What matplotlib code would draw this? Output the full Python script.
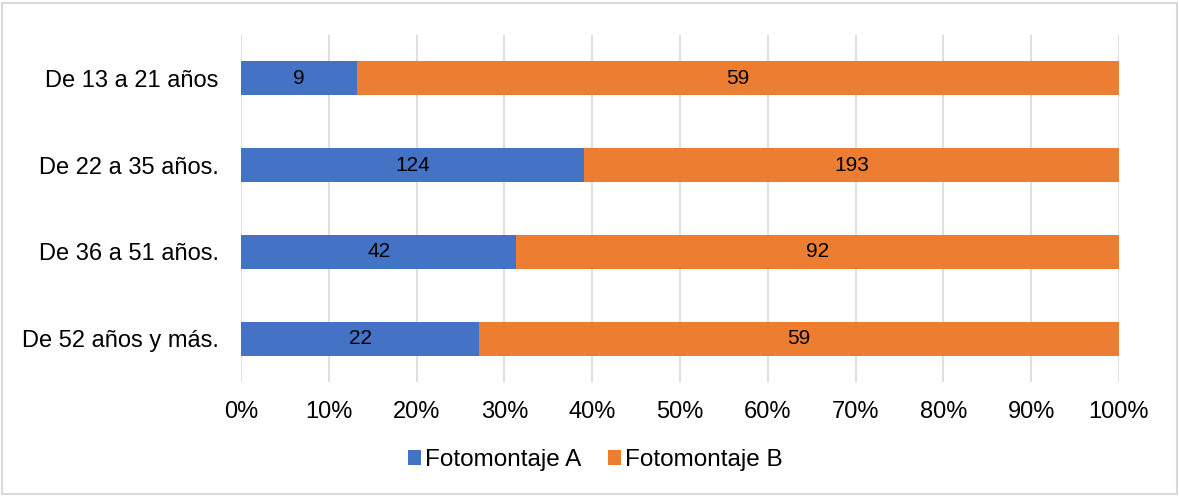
import numpy as np
import matplotlib.pyplot as plt
from matplotlib.patches import Rectangle
from matplotlib.ticker import FuncFormatter

plt.rcParams['font.family'] = ['Liberation Sans', 'DejaVu Sans']

grupos = ['De 13 a 21 años', 'De 22 a 35 años.', 'De 36 a 51 años.', 'De 52 años y más.']
foto_a = np.array([9, 124, 42, 22])
foto_b = np.array([59, 193, 92, 59])

total = foto_a + foto_b
pct_a = foto_a / total * 100
pct_b = foto_b / total * 100

fig = plt.figure(figsize=(11.79, 4.96), dpi=100)
ax = fig.add_axes([0.2044, 0.2299, 0.7447, 0.6995])

y = np.arange(len(grupos))
ax.barh(y, pct_a, height=0.39, color='#4472C4', label='Fotomontaje A', zorder=2)
ax.barh(y, pct_b, left=pct_a, height=0.39, color='#ED7D31', label='Fotomontaje B', zorder=2)

for i in range(len(grupos)):
    ax.text(pct_a[i] / 2, y[i], str(foto_a[i]), ha='center', va='center', fontsize=15)
    ax.text(pct_a[i] + pct_b[i] / 2, y[i], str(foto_b[i]), ha='center', va='center', fontsize=15)

ax.set_xlim(0, 100)
ax.set_ylim(3.5, -0.5)
ax.set_xticks(np.arange(0, 101, 10))
ax.xaxis.set_major_formatter(FuncFormatter(lambda v, p: f'{int(v)}%'))
ax.set_yticks(y)
ax.set_yticklabels(grupos)
ax.tick_params(axis='both', length=0, labelsize=17)
ax.tick_params(axis='x', pad=14)
ax.tick_params(axis='y', pad=16)
ax.grid(axis='x', color='#D9D9D9', linewidth=1.2, zorder=0)
for s in ax.spines.values():
    s.set_visible(False)

fig.legend(loc='center', bbox_to_anchor=(0.505, 1 - 460 / 496), ncol=2, frameon=False,
           fontsize=17.5, handlelength=0.55, handleheight=0.55, handletextpad=0.15,
           columnspacing=1.1)

fig.patches.append(Rectangle((0.002, 0.004), 0.996, 0.99, transform=fig.transFigure,
                             fill=False, edgecolor='#D9D9D9', linewidth=1.5))

fig.savefig('out.png', dpi=100)
